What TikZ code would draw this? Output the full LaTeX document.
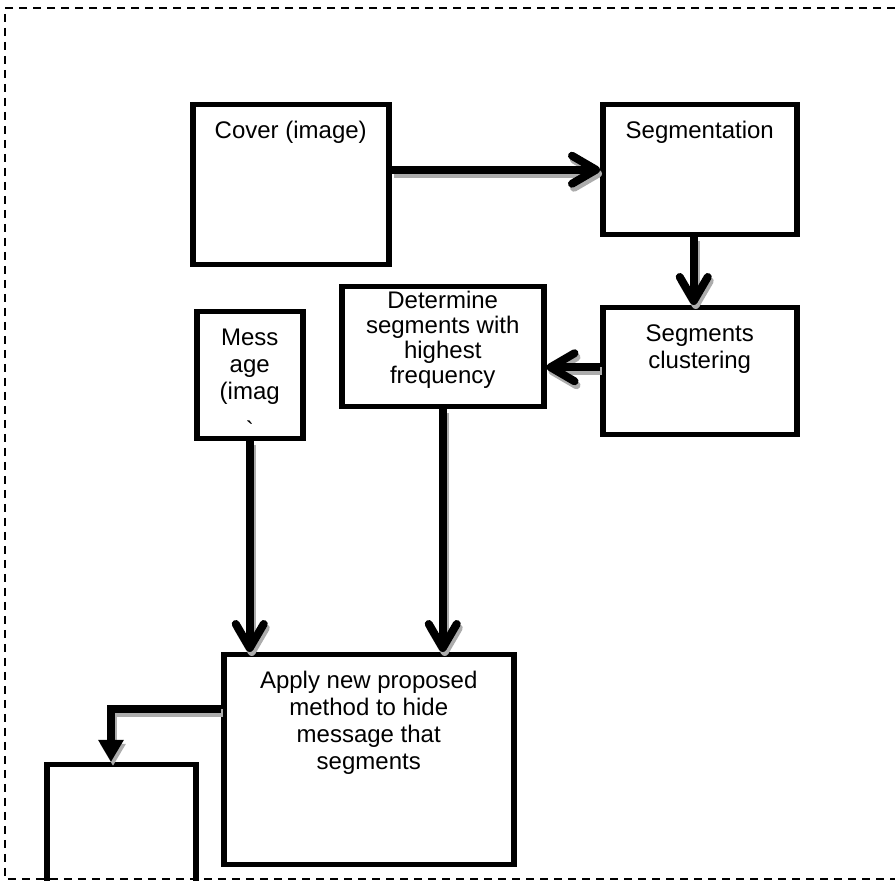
\documentclass[tikz,border=0pt]{standalone}
\usepackage{fontspec}
\setmainfont{Liberation Sans}
\usetikzlibrary{arrows.meta, positioning}

\begin{document}
\begin{tikzpicture}[x=0.5pt, y=-0.5pt,
    box/.style={draw, line width=2.75pt, anchor=north west},
    txt/.style={align=center, inner sep=0pt, font=\fontsize{12}{13.5}\selectfont},
    arrowshadow/.style={preaction={draw=gray!65, line width=4pt, transform canvas={shift={(1pt,-2pt)}}}},
    flow/.style={line width=4pt, -{Straight Barb[length=12pt, width=14pt, round]}, arrowshadow},
    elbow/.style={line width=4pt, -{Triangle[length=11pt, width=12pt]}, arrowshadow}]
    \useasboundingbox (0,0) rectangle (895,881);
    \draw[line width=1.2pt, dash pattern=on 4pt off 3pt] (895,8) -- (5,8) -- (5,879) -- (895,879);

    \node[box, minimum width=98pt, minimum height=80pt] (cover) at (190,102) {};
    \node[box, minimum width=97pt, minimum height=65pt] (seg) at (600,102) {};
    \node[box, minimum width=97pt, minimum height=63.5pt] (clus) at (600,305) {};
    \node[box, minimum width=101pt, minimum height=60pt] (det) at (339,284) {};
    \node[box, minimum width=53pt, minimum height=63.5pt] (msg) at (194,309) {};
    \node[box, minimum width=145pt, minimum height=105pt] (apply) at (221,652) {};
    \node[box, minimum width=74.5pt, minimum height=110pt] (result) at (44,762) {};

    \node[txt, below=9.5pt of cover.north] (covertxt) {Cover (image)};
    \node[txt, below=9.5pt of seg.north] (segtxt) {Segmentation};
    \node[txt, below=9.5pt of clus.north] (clustxt) {Segments\\clustering};
    \node[txt, below=3.5pt of det.north, font=\fontsize{12}{12.5}\selectfont] (dettxt) {Determine\\segments with\\highest\\frequency};
    \node[txt, below=10pt of msg.north] (msgtxt) {Mess\\age\\(imag\\\raisebox{-6pt}{\textasciigrave}};
    \node[txt, below=9.5pt of apply.north] (applytxt) {Apply new proposed\\method to hide\\message that\\segments};

    \coordinate (bend) at (111,709);
    \draw[flow] (cover.east |- seg.west) -- (seg.west);
    \draw[flow] ([xshift=-3pt]seg.south) -- ([xshift=-3pt]clus.north);
    \draw[flow] ([yshift=2pt]clus.west) -- ([yshift=2pt]clus.west -| det.east);
    \draw[flow] (msg.south) -- (msg.south |- apply.north);
    \draw[flow] (det.south) -- (det.south |- apply.north);
    \draw[elbow] (apply.west |- bend) -- (bend) -- (bend |- result.north);
\end{tikzpicture}
\end{document}
